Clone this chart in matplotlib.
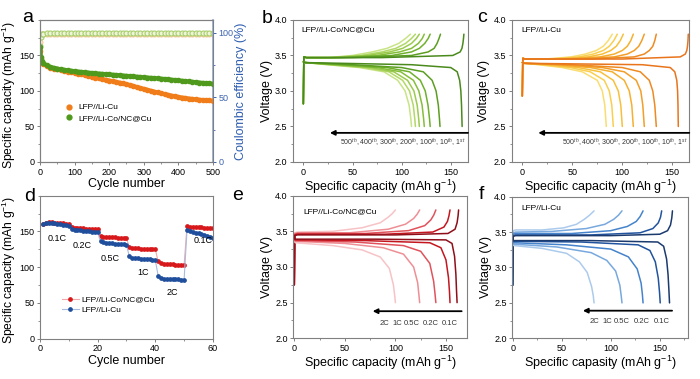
import numpy as np
import matplotlib.pyplot as plt
from matplotlib.lines import Line2D
from matplotlib.ticker import MultipleLocator

plt.rcParams['font.family'] = ['Liberation Sans', 'DejaVu Sans']
plt.rcParams['mathtext.fontset'] = 'custom'
plt.rcParams['mathtext.rm'] = 'Liberation Sans'
plt.rcParams['mathtext.it'] = 'Liberation Sans:italic'

# ---------------- panel a : long cycling ----------------
cyc_a = [1, 2, 5, 10, 20, 30, 40, 50, 60, 70, 80, 90, 100, 110, 120, 130, 140, 150,
         160, 170, 180, 190, 200, 210, 220, 230, 240, 250, 260, 270, 280, 290, 300,
         310, 320, 330, 340, 350, 360, 370, 380, 390, 400, 410, 420, 430, 440, 450,
         460, 470, 480, 490, 500]
cap_licu = [157, 146, 141, 138, 135, 133, 131.5, 130.3, 129.2, 128.2, 127.2, 126.3, 125.4,
            124.4, 123.3, 122.2, 121.1, 120.0, 118.9, 117.8, 116.7, 115.7, 114.7, 113.8,
            112.8, 111.8, 110.7, 109.5, 108.4, 107.0, 105.5, 104.2, 103.0, 101.7, 100.4,
            99.1, 97.9, 96.7, 95.6, 94.5, 93.5, 92.5, 91.6, 90.8, 90.1, 89.4, 88.8, 88.2,
            87.7, 87.3, 86.9, 86.6, 86.3]
cap_lico = [162, 148, 142, 139, 136, 134, 132.6, 131.5, 130.6, 129.8, 129.1, 128.5, 127.9,
            127.3, 126.8, 126.3, 125.8, 125.3, 124.9, 124.5, 124.1, 123.7, 123.3, 122.9,
            122.5, 122.1, 121.7, 121.3, 120.9, 120.5, 120.1, 119.7, 119.3, 118.9, 118.5,
            118.1, 117.7, 117.3, 116.9, 116.4, 115.9, 115.4, 114.9, 114.4, 113.9, 113.4,
            112.9, 112.4, 111.9, 111.4, 111.0, 110.6, 110.2]
ce_licu = [93, 98, 99.3, 99.4, 99.5, 99.4, 99.5, 99.5, 99.4, 99.5, 99.5, 99.4, 99.5, 99.5,
           99.4, 99.5, 99.5, 99.4, 99.5, 99.5, 99.4, 99.5, 99.5, 99.4, 99.5, 99.5, 99.4,
           99.5, 99.5, 99.4, 99.5, 99.5, 99.4, 99.5, 99.5, 99.4, 99.5, 99.5, 99.4, 99.5,
           99.5, 99.4, 99.5, 99.5, 99.4, 99.5, 99.5, 99.4, 99.5, 99.5, 99.4, 99.5, 99.5]
ce_lico = [90, 97, 99.2, 99.5, 99.6, 99.7, 99.6, 99.7, 99.6, 99.7, 99.6, 99.7, 99.6, 99.7,
           99.6, 99.7, 99.6, 99.7, 99.6, 99.7, 99.6, 99.7, 99.6, 99.7, 99.6, 99.7, 99.6,
           99.7, 99.6, 99.7, 99.6, 99.7, 99.6, 99.7, 99.6, 99.7, 99.6, 99.7, 99.6, 99.7,
           99.6, 99.7, 99.6, 99.7, 99.6, 99.7, 99.6, 99.7, 99.6, 99.7, 99.6, 99.7, 99.6]

# ---------------- panel d : rate capability ----------------
cyc_d = list(range(1, 61))
rate_lico = [161.0, 162.5, 163.0, 162.8, 162.4, 162.0, 161.6, 161.2, 160.8, 160.3,
             156.0, 155.4, 155.0, 154.7, 154.4, 154.1, 153.8, 153.6, 153.3, 153.0,
             143.0, 142.5, 142.2, 142.0, 141.8, 141.6, 141.4, 141.2, 141.0, 140.7,
             128.0, 127.0, 126.6, 126.3, 126.1, 125.9, 125.7, 125.5, 125.3, 125.1,
             108.0, 105.5, 104.8, 104.4, 104.1, 103.9, 103.7, 103.5, 103.3, 103.2,
             157.0, 156.8, 156.5, 156.2, 155.9, 155.6, 155.3, 155.0, 154.7, 154.3]
rate_licu = [160.5, 162.0, 162.3, 162.0, 161.5, 160.8, 160.0, 159.3, 158.6, 157.8,
             153.0, 152.5, 152.0, 151.5, 151.0, 150.6, 150.2, 149.8, 149.3, 148.8,
             136.0, 135.0, 134.4, 133.9, 133.4, 133.0, 132.6, 132.2, 131.8, 131.3,
             115.0, 113.5, 112.8, 112.3, 111.9, 111.5, 111.1, 110.8, 110.5, 110.2,
             88.0, 85.0, 84.2, 83.8, 83.5, 83.3, 83.1, 82.9, 82.8, 82.7,
             151.5, 150.5, 149.5, 148.5, 147.5, 146.5, 145.3, 144.0, 142.7, 141.3]
rate_names = ['0.1C', '0.2C', '0.5C', '1C', '2C', '0.1C']
rate_label_x = [5.8, 14.5, 24.3, 35.8, 45.9, 56.6]
rate_label_y = [140, 131, 112, 93, 64, 137]

# ---------------- panel b : Li-Co/NC@Cu cycling curves ----------------
cycle_names = ['1$^{st}$', '10$^{th}$', '100$^{th}$', '200$^{th}$', '300$^{th}$',
               '400$^{th}$', '500$^{th}$']
b_dis_v = [3.41, 3.40, 3.37, 3.33, 3.27, 3.15, 3.00, 2.80, 2.60, 2.50]
b_dis_q = [[0, 2, 110, 150, 156.5, 159, 160.2, 160.9, 161.3, 161.5],
           [0, 2, 50, 100, 122, 131, 135, 137.3, 138.5, 139],
           [0, 2, 40, 85, 108, 119, 124, 126.8, 128.4, 129],
           [0, 2, 35, 75, 99, 112, 117.5, 120.8, 122.4, 123],
           [0, 2, 30, 68, 92, 106, 112.5, 115.8, 117.4, 118],
           [0, 2, 27, 62, 87, 101, 108, 111.8, 113.4, 114],
           [0, 2, 24, 57, 82, 96, 103.5, 107.6, 109.4, 110]]
b_chg_v = [2.82, 3.48, 3.47, 3.47, 3.50, 3.55, 3.60, 3.67, 3.74, 3.80]
b_chg_q = [[0, 0.5, 3, 80, 152, 159.5, 161.3, 162.3, 162.9, 163.3],
           [0, 0.5, 3, 50, 110, 127, 133, 136, 138, 139.5],
           [0, 0.5, 3, 40, 90, 110, 118, 123.5, 127, 129],
           [0, 0.5, 3, 35, 75, 98, 110, 117, 121, 123],
           [0, 0.5, 3, 30, 65, 88, 101, 110, 115, 118],
           [0, 0.5, 3, 27, 58, 80, 94, 104, 110, 114],
           [0, 0.5, 3, 25, 50, 70, 85, 97, 104, 109]]

# ---------------- panel c : Li-Cu cycling curves ----------------
c_dis_v = [3.40, 3.39, 3.37, 3.33, 3.27, 3.15, 3.00, 2.80, 2.60, 2.50]
c_dis_q = [[0, 2, 120, 148, 152.5, 154.5, 155.3, 155.7, 155.9, 156],
           [0, 2, 50, 100, 118, 127, 130.5, 132.5, 133.5, 134],
           [0, 2, 40, 80, 102, 114, 118.5, 120.5, 121.5, 122],
           [0, 2, 32, 68, 90, 102, 107, 109.5, 110.5, 111],
           [0, 2, 25, 56, 78, 91, 96, 98.5, 99.5, 100],
           [0, 2, 20, 48, 68, 82, 87, 89.5, 90.5, 91],
           [0, 2, 16, 40, 60, 75, 80, 82.5, 83.5, 84]]
c_chg_v = [2.93, 3.46, 3.45, 3.45, 3.48, 3.52, 3.57, 3.63, 3.71, 3.80]
c_chg_q = [[0, 0.5, 3, 100, 158, 163, 164.5, 165.2, 165.7, 166],
           [0, 0.5, 3, 70, 112, 122, 127, 130.5, 132.5, 134],
           [0, 0.5, 3, 50, 92, 105, 112, 116.5, 119.5, 122],
           [0, 0.5, 3, 40, 78, 92, 100, 105, 108.5, 111],
           [0, 0.5, 3, 33, 66, 80, 88.5, 94, 98, 101],
           [0, 0.5, 3, 28, 57, 71, 81, 87, 91.5, 95],
           [0, 0.5, 3, 23, 49, 63, 74, 81, 86, 90]]

# ---------------- panel e : Li-Co/NC@Cu rate curves ----------------
rates = ['0.1C', '0.2C', '0.5C', '1C', '2C']
e_dis_q = [[0, 1, 80, 150, 156, 158.5, 159.8, 160.5, 161],
           [0, 1, 70, 134, 145, 150, 152.5, 153.5, 154],
           [0, 1, 60, 108, 125, 134, 137.8, 139.2, 140],
           [0, 1, 50, 88, 108, 118, 122, 123.3, 124],
           [0, 1, 38, 67, 85, 94, 98, 99.3, 100]]
e_dis_v = [[3.40, 3.39, 3.39, 3.38, 3.33, 3.15, 2.90, 2.65, 2.50],
           [3.39, 3.38, 3.37, 3.34, 3.27, 3.10, 2.85, 2.65, 2.50],
           [3.38, 3.37, 3.35, 3.30, 3.22, 3.05, 2.80, 2.62, 2.50],
           [3.37, 3.36, 3.33, 3.27, 3.18, 3.00, 2.78, 2.60, 2.50],
           [3.36, 3.34, 3.30, 3.24, 3.14, 2.98, 2.75, 2.60, 2.50]]
e_chg_q = [[0, 0.5, 3, 100, 152, 159, 161, 162, 162.5],
           [0, 0.5, 3, 90, 137, 148, 151.5, 153, 154],
           [0, 0.5, 3, 70, 113, 129, 135, 138, 140],
           [0, 0.5, 3, 55, 93, 110, 118, 121.5, 124],
           [0, 0.5, 3, 38, 67, 85, 93, 97, 100]]
e_chg_v = [[2.75, 3.44, 3.45, 3.45, 3.47, 3.53, 3.62, 3.72, 3.80],
           [2.75, 3.45, 3.46, 3.46, 3.49, 3.56, 3.64, 3.72, 3.80],
           [2.75, 3.46, 3.47, 3.47, 3.51, 3.58, 3.66, 3.73, 3.80],
           [2.75, 3.47, 3.48, 3.48, 3.53, 3.60, 3.68, 3.74, 3.80],
           [2.75, 3.48, 3.49, 3.50, 3.55, 3.62, 3.70, 3.75, 3.80]]
e_rate_x = [88.7, 102, 116, 135, 154]

# ---------------- panel f : Li-Cu rate curves ----------------
f_dis_q = [[0, 1, 80, 148, 154, 157, 158.5, 159.3, 160],
           [0, 1, 70, 128, 140, 145.5, 148.5, 149.8, 150.5],
           [0, 1, 55, 100, 118, 127, 131, 132.3, 133],
           [0, 1, 45, 80, 96, 105, 109.3, 110.7, 111.5],
           [0, 1, 30, 55, 68, 76, 80.5, 82.2, 83]]
f_dis_v = [[3.39, 3.38, 3.38, 3.36, 3.30, 3.12, 2.90, 2.70, 2.50],
           [3.38, 3.37, 3.36, 3.32, 3.24, 3.08, 2.85, 2.65, 2.50],
           [3.36, 3.35, 3.32, 3.26, 3.15, 2.98, 2.78, 2.62, 2.50],
           [3.35, 3.33, 3.29, 3.21, 3.10, 2.95, 2.75, 2.60, 2.50],
           [3.33, 3.31, 3.27, 3.20, 3.08, 2.93, 2.73, 2.60, 2.50]]
f_chg_q = [[0, 0.5, 3, 100, 150, 158, 161, 162.3, 163],
           [0, 0.5, 3, 80, 130, 143, 148.5, 150.8, 152],
           [0, 0.5, 3, 60, 100, 117, 126, 130, 133],
           [0, 0.5, 3, 40, 75, 94, 103, 108, 111.5],
           [0, 0.5, 3, 30, 52, 65, 73, 78.5, 83]]
f_chg_v = [[2.75, 3.44, 3.45, 3.45, 3.47, 3.52, 3.60, 3.70, 3.80],
           [2.75, 3.45, 3.46, 3.46, 3.49, 3.55, 3.63, 3.71, 3.80],
           [2.75, 3.47, 3.48, 3.48, 3.52, 3.58, 3.65, 3.72, 3.80],
           [2.75, 3.49, 3.50, 3.51, 3.55, 3.61, 3.68, 3.74, 3.80],
           [2.75, 3.52, 3.53, 3.53, 3.56, 3.61, 3.68, 3.74, 3.80]]
f_rate_x = [83, 97, 111.5, 132, 152.4]

green_shades = ['#4A8A1C', '#5C9E22', '#6FB02C', '#86BE3A', '#9CCB4E', '#B2D866', '#C8E486']
orange_shades = ['#E8741C', '#EE8A22', '#F29E28', '#F5B030', '#F7C03C', '#F9CF50', '#FADD70']
red_shades = ['#8E0F1A', '#C4161F', '#E0535C', '#EE8F95', '#F7C3C6']
blue_shades = ['#1B3A6E', '#21539E', '#4583CC', '#78A8DE', '#ACCBEC']

GREY = '#808080'
LAB = 9
TICK = 6.5


def style(ax, xmaj, ymaj):
    for s in ax.spines.values():
        s.set_color(GREY)
        s.set_linewidth(0.8)
    ax.xaxis.set_major_locator(MultipleLocator(xmaj))
    ax.xaxis.set_minor_locator(MultipleLocator(xmaj / 2))
    ax.yaxis.set_major_locator(MultipleLocator(ymaj))
    ax.yaxis.set_minor_locator(MultipleLocator(ymaj / 2))
    ax.tick_params(which='both', direction='out', labelsize=TICK, color=GREY, pad=1.5)
    ax.tick_params(which='major', length=2.5, width=0.7)
    ax.tick_params(which='minor', length=1.5, width=0.6)


def curves(ax, qs, vs, colors):
    for q, v, c in reversed(list(zip(qs, vs, colors))):
        ax.plot(q, v, color=c, lw=1.1, solid_capstyle='round')


def volt_axes(ax, xlim, title, tx, ty, xlabel, ylab_x):
    ax.set_xlim(*xlim)
    ax.set_ylim(2.0, 4.0)
    style(ax, 50, 0.5)
    ax.yaxis.set_major_formatter(plt.FormatStrFormatter('%.1f'))
    ax.set_xlabel(xlabel, fontsize=LAB, labelpad=1)
    ax.set_ylabel('Voltage (V)', fontsize=LAB)
    ax.yaxis.set_label_coords(ylab_x, 0.5)
    ax.text(tx, ty, title, transform=ax.transAxes, fontsize=6, va='center')


def arrow(ax, x_head, x_tail, y):
    ax.annotate('', xy=(x_head, y), xytext=(x_tail, y),
                arrowprops=dict(arrowstyle='-|>', color='black', lw=1.3, mutation_scale=7,
                                shrinkA=0, shrinkB=0))


fig = plt.figure(figsize=(7.0, 3.79), dpi=100)

# ---- a ----
ax = fig.add_axes([0.0571, 0.5726, 0.2471, 0.3747])
ax2 = ax.twinx()
ax2.plot(cyc_a, ce_licu, 'o', ms=3.6, mfc='#FBEFD6', mec='#F2C48E', mew=0.7)
ax2.plot(cyc_a, ce_lico, 'o', ms=3.6, mfc='#EEF5D8', mec='#A9CF6E', mew=0.8)
ax.plot(cyc_a, cap_licu, '-o', color='#F07D1A', ms=3.0, lw=3.0)
ax.plot(cyc_a, cap_lico, '-o', color='#4F9A1C', ms=3.0, lw=3.0)
ax.set_xlim(0, 500)
ax.set_ylim(0, 200)
ax2.set_ylim(0, 110)
style(ax, 100, 50)
ax.yaxis.set_major_locator(plt.FixedLocator([0, 50, 100, 150]))
ax.set_xlabel('Cycle number', fontsize=LAB, labelpad=1)
ax.set_ylabel('Specific capacity (mAh g$^{-1}$)', fontsize=8.7)
ax.yaxis.set_label_coords(-0.125, 0.47)
ax2.yaxis.set_major_locator(MultipleLocator(50))
ax2.yaxis.set_minor_locator(MultipleLocator(25))
ax2.tick_params(which='both', direction='out', labelsize=TICK, colors='#3E64B0', pad=1.5)
ax2.tick_params(which='major', length=2.5, width=0.7)
ax2.tick_params(which='minor', length=1.5, width=0.6)
for s in ax2.spines.values():
    s.set_color(GREY)
    s.set_linewidth(0.8)
ax2.spines['right'].set_color('#8FA8D8')
ax2.spines['right'].set_linewidth(1.2)
ax2.set_ylabel('Coulombic efficiency (%)', fontsize=LAB, color='#2E5DB0')
ax2.yaxis.set_label_coords(1.127, 0.5)
handles = [Line2D([], [], ls='none', marker='o', ms=3.5, color='#F07D1A'),
           Line2D([], [], ls='none', marker='o', ms=3.5, color='#4F9A1C')]
ax.legend(handles, ['LFP//Li-Cu', 'LFP//Li-Co/NC@Cu'], loc='upper left',
          bbox_to_anchor=(0.12, 0.44), fontsize=6, frameon=False, handlelength=1.0,
          handletextpad=0.6, labelspacing=0.35, borderpad=0)
ax.set_zorder(ax2.get_zorder() + 1)
ax.patch.set_visible(False)

# ---- b ----
ax = fig.add_axes([0.4186, 0.5726, 0.25, 0.3747])
curves(ax, b_chg_q, [b_chg_v] * 7, green_shades)
curves(ax, b_dis_q, [b_dis_v] * 7, green_shades)
volt_axes(ax, (-10.5, 167.5), 'LFP//Li-Co/NC@Cu', 0.045, 0.93,
          'Specific capacity (mAh g$^{-1}$)', -0.114)
arrow(ax, 27, 167.5, 2.41)
ax.text(165, 2.27, ', '.join(reversed(cycle_names)), fontsize=5, ha='right', va='center',
        color='#333333')

# ---- c ----
ax = fig.add_axes([0.731, 0.5726, 0.2537, 0.3747])
curves(ax, c_chg_q, [c_chg_v] * 7, orange_shades)
curves(ax, c_dis_q, [c_dis_v] * 7, orange_shades)
volt_axes(ax, (-10.6, 167), 'LFP//Li-Cu', 0.052, 0.925,
          'Specific capacity (mAh g$^{-1}$)', -0.122)
arrow(ax, 16, 167, 2.41)
ax.text(165, 2.27, ', '.join(reversed(cycle_names)), fontsize=5, ha='right', va='center',
        color='#333333')

# ---- d ----
ax = fig.add_axes([0.0571, 0.1063, 0.2471, 0.3773])
ax.plot(cyc_d, rate_lico, '-o', color='#F2A8A8', mfc='#D7191C', mec='#D7191C', ms=2.4,
        lw=0.8, label='LFP//Li-Co/NC@Cu')
ax.plot(cyc_d, rate_licu, '-o', color='#A8BCE0', mfc='#1F4E9C', mec='#1F4E9C', ms=2.4,
        lw=0.8, label='LFP//Li-Cu')
for name, x, y in zip(rate_names, rate_label_x, rate_label_y):
    ax.text(x, y, name, fontsize=6.5, ha='center', va='center')
ax.set_xlim(0, 60)
ax.set_ylim(0, 200)
style(ax, 20, 50)
ax.yaxis.set_major_locator(plt.FixedLocator([0, 50, 100, 150]))
ax.set_xlabel('Cycle number', fontsize=LAB, labelpad=1)
ax.set_ylabel('Specific capacity (mAh g$^{-1}$)', fontsize=8.7)
ax.yaxis.set_label_coords(-0.125, 0.48)
ax.legend(loc='upper left', bbox_to_anchor=(0.104, 0.33), fontsize=6, frameon=False,
          handlelength=2.0, handletextpad=0.3, labelspacing=0.3, borderpad=0)

# ---- e ----
ax = fig.add_axes([0.419, 0.1074, 0.2477, 0.3763])
curves(ax, e_chg_q, e_chg_v, red_shades)
curves(ax, e_dis_q, e_dis_v, red_shades)
volt_axes(ax, (-1, 170.5), 'LFP//Li-Co/NC@Cu', 0.058, 0.888,
          'Specific capacity (mAh g$^{-1}$)', -0.115)
arrow(ax, 77.5, 165.5, 2.38)
for name, x in zip(reversed(rates), e_rate_x):
    ax.text(x, 2.21, name, fontsize=5.5, ha='center', va='center', color='#333333')

# ---- f ----
ax = fig.add_axes([0.7319, 0.1074, 0.2506, 0.3736])
curves(ax, f_chg_q, f_chg_v, blue_shades)
curves(ax, f_dis_q, f_dis_v, blue_shades)
volt_axes(ax, (-0.4, 178.6), 'LFP//Li-Cu', 0.053, 0.918,
          'Specific capasity (mAh g$^{-1}$)', -0.117)
arrow(ax, 71.6, 162.6, 2.39)
for name, x in zip(reversed(rates), f_rate_x):
    ax.text(x, 2.24, name, fontsize=5.5, ha='center', va='center', color='#333333')

# panel letters
for letter, px, py in [('a', 28, 22), ('b', 267, 22.7), ('c', 482, 21.7),
                       ('d', 29.5, 200.7), ('e', 238, 200), ('f', 481, 199.3)]:
    fig.text(px / 700, 1 - py / 379, letter, fontsize=14, ha='center', va='baseline')

fig.savefig('out.png', dpi=100)
